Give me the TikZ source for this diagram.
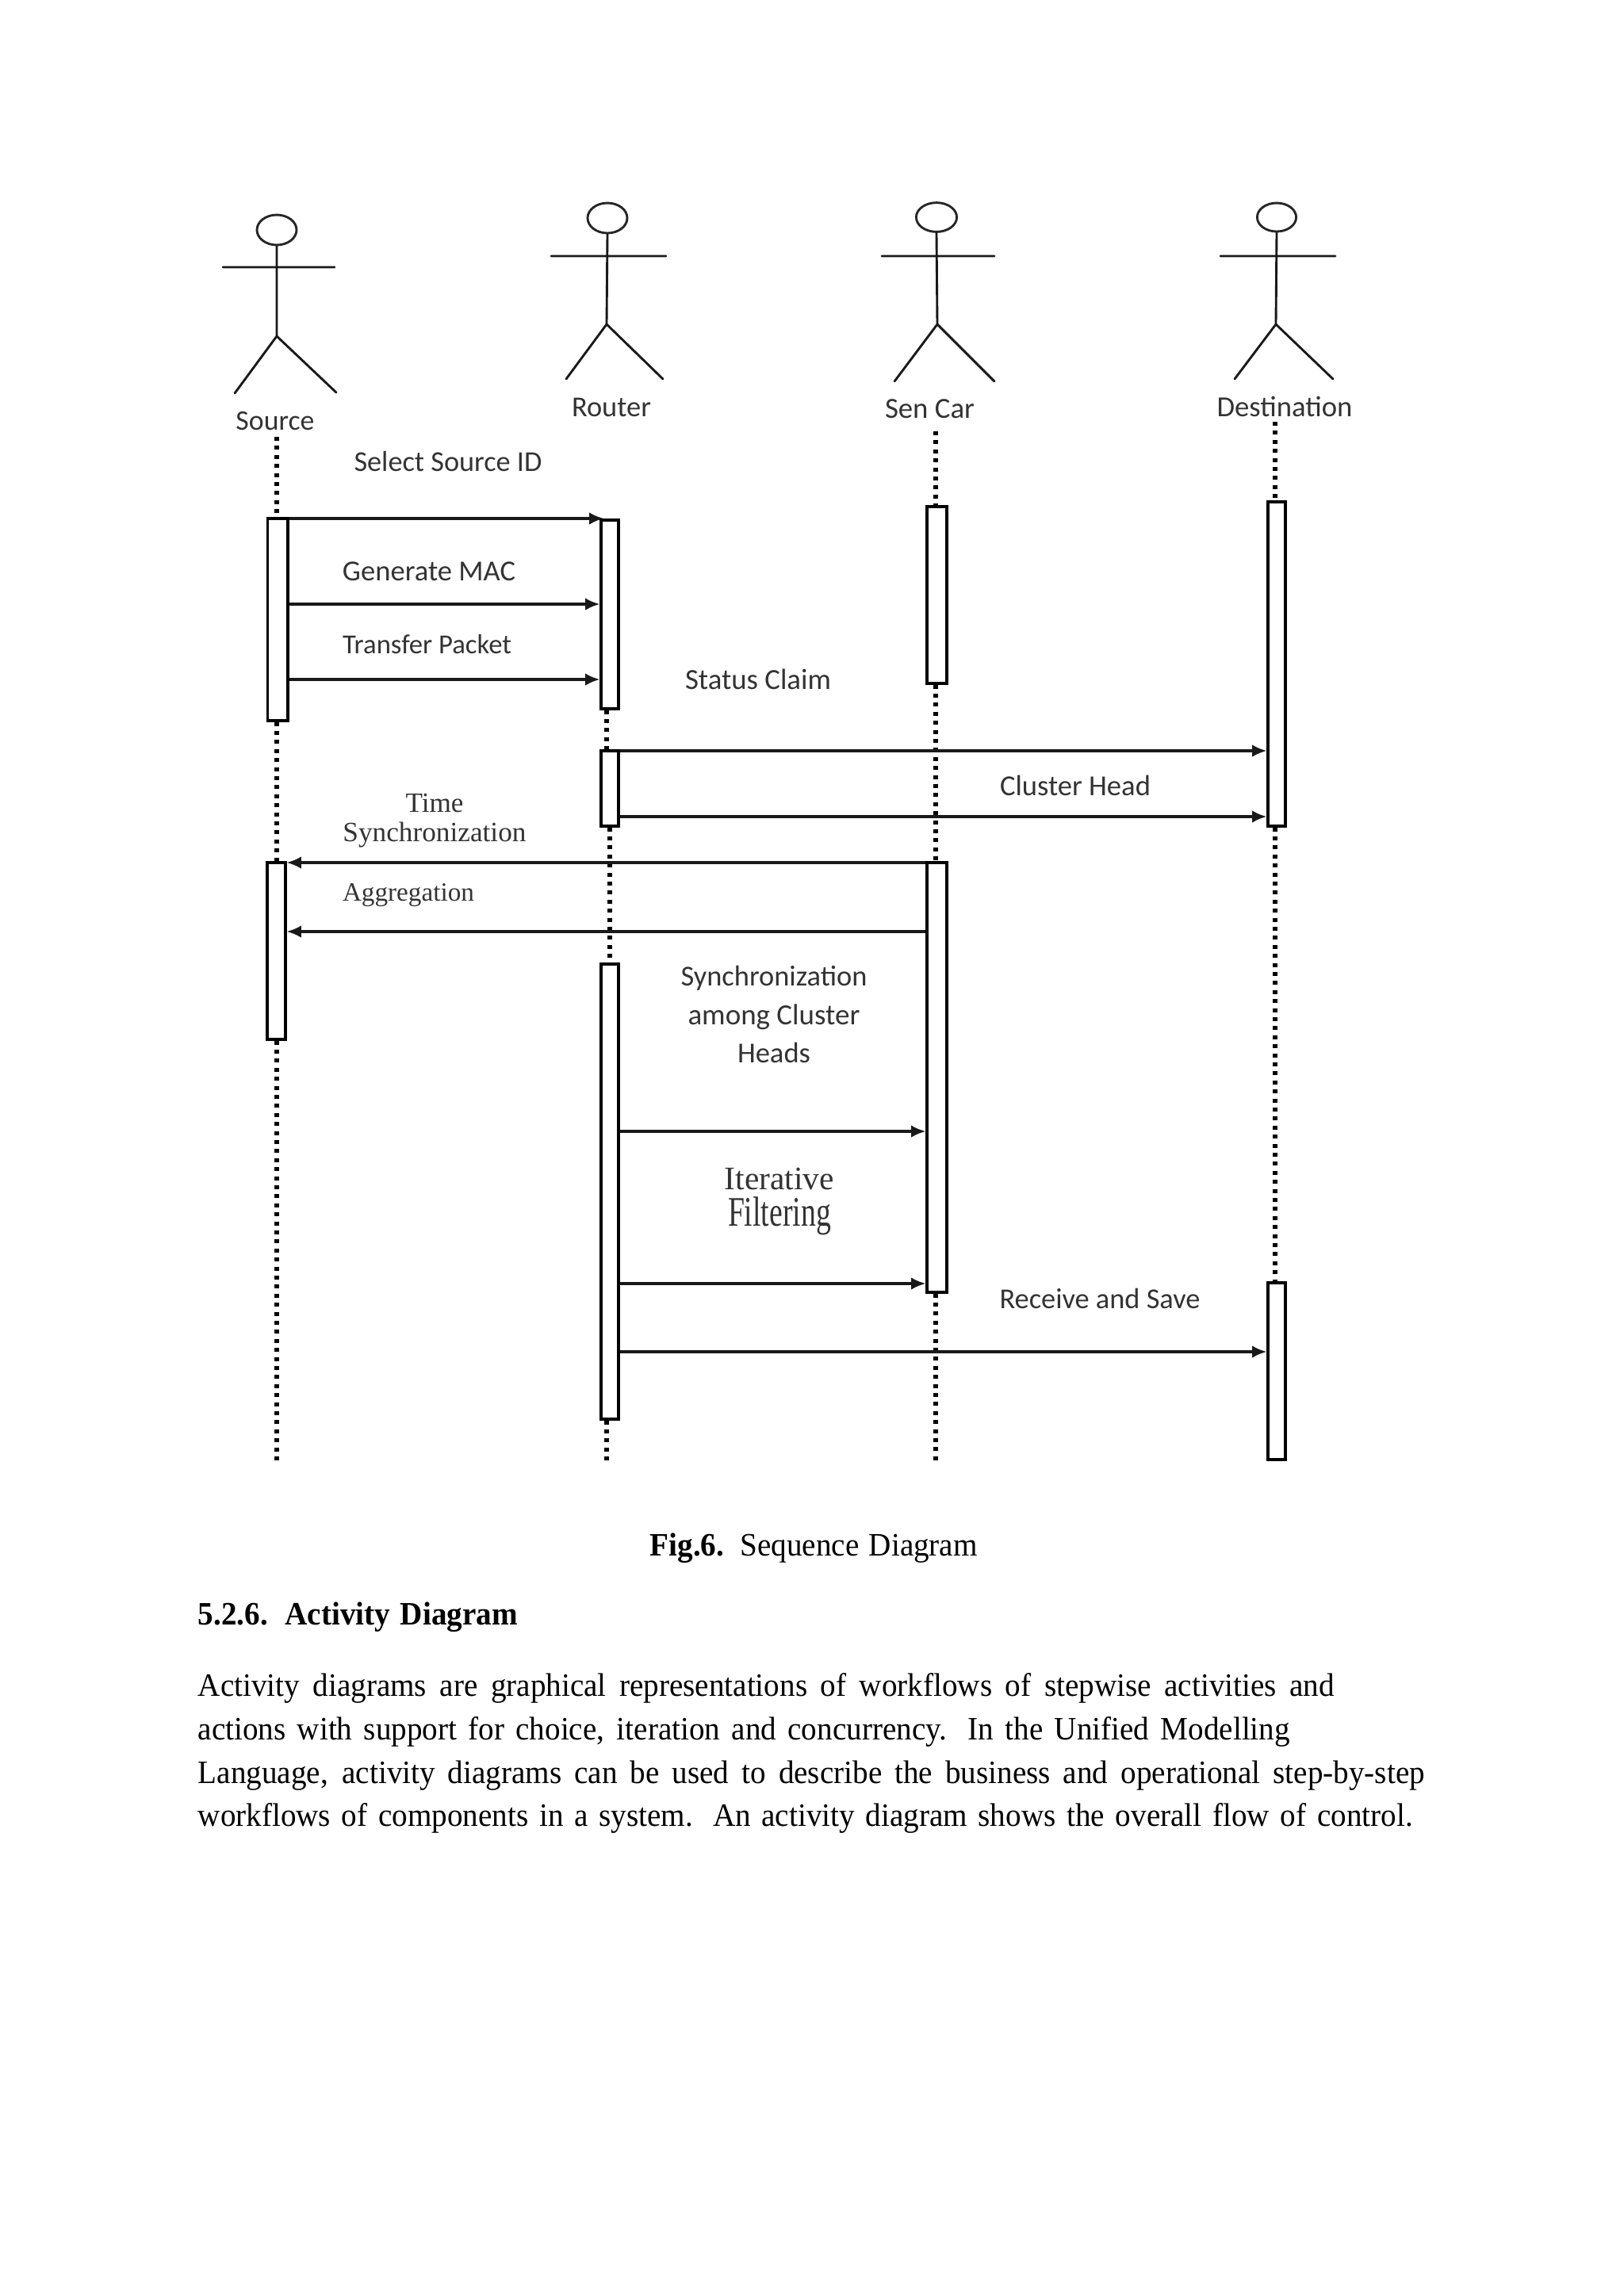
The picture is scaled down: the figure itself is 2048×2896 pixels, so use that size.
\documentclass[tikz,border=0pt]{standalone}
\usepackage{fontspec}
\usepackage{graphicx}
\setmainfont{Liberation Serif}
\newfontfamily\bodyfont[FakeStretch=0.95]{Liberation Serif}
\newfontfamily\labfont{Carlito}
\usetikzlibrary{arrows.meta,fit,shapes.geometric,calc}
\newdimen\unitpx \unitpx=0.25pt
\newcommand{\fitw}[2]{\resizebox{#1\unitpx}{!}{#2}}
\newcommand{\spread}[2]{\makebox[#1\unitpx][s]{#2}}
\tikzset{
  limb/.style={draw=black!90,line width=0.72pt,line cap=round},
  headshape/.style={ellipse,draw=black!85,line width=0.72pt,inner sep=0pt},
  barbox/.style={rectangle,draw=black,fill=white,line width=0.78pt,inner sep=0pt},
  life/.style={draw=black,line width=1.35pt,dash pattern=on 1.25pt off 1.6pt},
  msg/.style={draw=black!90,line width=0.8pt,-{Latex[length=4.6pt,width=3.9pt]}},
  seqlabel/.style={inner sep=0pt,text=black!80,font=\labfont},
  serlabel/.style={inner sep=0pt,text=black!80},
  bodyline/.style={inner sep=0pt,anchor=base west,font=\bodyfont\fontsize{10.3pt}{12pt}\selectfont}
}
\begin{document}
\begin{tikzpicture}[x=0.25pt,y=-0.25pt]
\useasboundingbox (0,0) rectangle (2048,2896);
% actors
\node[headshape,minimum width=12.5pt,minimum height=9.5pt] (srcHead) at (349,290) {};
\coordinate (srcHip) at (349,424);
\coordinate (srcArmL) at (281,337); \coordinate (srcArmR) at (422,337);
\coordinate (srcLegL) at (296,496); \coordinate (srcLegR) at (424,495);
\draw[limb] (srcHead.south) -- (srcHip) (srcArmL) -- (srcArmR) (srcLegL) -- (srcHip) -- (srcLegR);
\node[headshape,minimum width=12.5pt,minimum height=9.5pt] (rtHead) at (766,275) {};
\coordinate (rtHip) at (765,409);
\coordinate (rtArmL) at (695,323); \coordinate (rtArmR) at (840,323);
\coordinate (rtLegL) at (714,478); \coordinate (rtLegR) at (836,478);
\draw[limb] (rtHead.south) -- (rtHip) (rtArmL) -- (rtArmR) (rtLegL) -- (rtHip) -- (rtLegR);
\node[headshape,minimum width=12.8pt,minimum height=9.2pt] (carHead) at (1181,274) {};
\coordinate (carHip) at (1182,409);
\coordinate (carArmL) at (1112,323); \coordinate (carArmR) at (1254,323);
\coordinate (carLegL) at (1128,481); \coordinate (carLegR) at (1254,481);
\draw[limb] (carHead.south) -- (carHip) (carArmL) -- (carArmR) (carLegL) -- (carHip) -- (carLegR);
\node[headshape,minimum width=12.3pt,minimum height=9pt] (dstHead) at (1610,274) {};
\coordinate (dstHip) at (1609,409);
\coordinate (dstArmL) at (1539,323); \coordinate (dstArmR) at (1684,323);
\coordinate (dstLegL) at (1557,478); \coordinate (dstLegR) at (1681,478);
\draw[limb] (dstHead.south) -- (dstHip) (dstArmL) -- (dstArmR) (dstLegL) -- (dstHip) -- (dstLegR);
% actor names
\node[seqlabel] (srcName) at (347,531) {\fitw{99}{Source}};
\node[seqlabel] (rtName) at (771,514) {\fitw{100}{Router}};
\node[seqlabel] (carName) at (1172.5,516) {\fitw{113}{Sen Car}};
\node[seqlabel] (dstName) at (1620,513) {\fitw{171}{Destination}};
% activation bars
\node[barbox,fit={(337.6,654)(363,909)}] (srcA) {};
\node[barbox,fit={(337,1088)(360,1311)}] (srcB) {};
\node[barbox,fit={(758,656)(780,894)}] (rtA) {};
\node[barbox,fit={(758,947)(780,1042)}] (rtB) {};
\node[barbox,fit={(758,1216)(780,1790)}] (rtC) {};
\node[barbox,fit={(1169,639)(1194,862)}] (carA) {};
\node[barbox,fit={(1169,1088)(1194,1630)}] (carB) {};
\node[barbox,fit={(1599,633)(1621,1042)}] (dstA) {};
\node[barbox,fit={(1599,1618)(1621,1841)}] (dstB) {};
% lifelines
\coordinate (srcTop) at (349,551); \coordinate (srcEnd) at (349,1843);
\coordinate (rtLine) at (765,0); \coordinate (rtEnd) at (765,1843);
\coordinate (carTop) at (1180,544); \coordinate (carEnd) at (1180,1843);
\coordinate (dstTop) at (1608,532);
\draw[life] (srcTop) -- (srcTop |- srcA.north);
\draw[life] (srcTop |- srcA.south) -- (srcTop |- srcB.north);
\draw[life] (srcTop |- srcB.south) -- (srcEnd);
\draw[life] (rtLine |- rtA.south) -- (rtLine |- rtB.north);
\draw[life] (rtB.south) -- (rtC.north);
\draw[life] (rtLine |- rtC.south) -- (rtEnd);
\draw[life] (carTop) -- (carTop |- carA.north);
\draw[life] (carTop |- carA.south) -- (carTop |- carB.north);
\draw[life] (carTop |- carB.south) -- (carEnd);
\draw[life] (dstTop) -- (dstTop |- dstA.north);
\draw[life] (dstTop |- dstA.south) -- (dstTop |- dstB.north);
% messages
\draw[msg,shorten >=-5\unitpx] (srcA.east |- 0,654) -- (rtA.west |- 0,654);
\draw[msg] (srcA.east |- 0,762) -- (rtA.west |- 0,762);
\draw[msg] (srcA.east |- 0,857) -- (rtA.west |- 0,857);
\draw[msg] (rtB.east |- 0,947) -- (dstA.west |- 0,947);
\draw[msg] (rtB.east |- 0,1030) -- (dstA.west |- 0,1030);
\draw[msg] (carB.west |- 0,1088) -- (srcB.east |- 0,1088);
\draw[msg] (carB.west |- 0,1175) -- (srcB.east |- 0,1175);
\draw[msg] (rtC.east |- 0,1427) -- (carB.west |- 0,1427);
\draw[msg] (rtC.east |- 0,1619) -- (carB.west |- 0,1619);
\draw[msg] (rtC.east |- 0,1705) -- (dstB.west |- 0,1705);
% message labels
\node[seqlabel] (lSelect) at (565,582) {\fitw{237}{Select Source ID}};
\node[seqlabel] (lMac) at (541,721) {\fitw{218}{Generate MAC}};
\node[seqlabel] (lTransfer) at (538.5,813) {\fitw{213}{Transfer Packet}};
\node[seqlabel] (lStatus) at (956,857) {\fitw{184}{Status Claim}};
\node[seqlabel] (lCluster) at (1356,991) {\fitw{190}{Cluster Head}};
\node[serlabel] (lTime) at (548,1013) {\fitw{73}{Time}};
\node[serlabel] (lSync) at (548,1053) {\fitw{231}{Synchronization}};
\node[serlabel] (lAgg) at (515,1129) {\fitw{166}{Aggregation}};
\node[seqlabel] (lSyncB) at (976,1234) {\fitw{235}{Synchronization}};
\node[seqlabel] (lAmong) at (976,1283) {\fitw{217}{among Cluster}};
\node[seqlabel] (lHeads) at (976,1328) {\fitw{92}{Heads}};
\node[serlabel] (lIter) at (983,1487) {\fitw{138}{Iterative}};
\node[serlabel] (lFilt) at (983,1534) {\resizebox{130\unitpx}{9.2pt}{Filtering}};
\node[seqlabel] (lRecv) at (1387,1638) {\fitw{253}{Receive and Save}};
% page text
\node[bodyline] (cap) at (819,1962) {\spread{413}{\textbf{Fig.6.} Sequence Diagram}};
\node[bodyline] (head) at (249,2049) {\spread{403}{\textbf{5.2.6. Activity Diagram}}};
\node[bodyline] (p1) at (249,2139) {\spread{1433}{Activity diagrams are graphical representations of workflows of stepwise activities and}};
\node[bodyline] (p2) at (249,2194) {\spread{1377}{actions with support for choice, iteration and concurrency. In the Unified Modelling}};
\node[bodyline] (p3) at (249,2249) {\spread{1547}{Language, activity diagrams can be used to describe the business and operational step-by-step}};
\node[bodyline] (p4) at (249,2303) {\spread{1532}{workflows of components in a system. An activity diagram shows the overall flow of control.}};
\end{tikzpicture}
\end{document}
